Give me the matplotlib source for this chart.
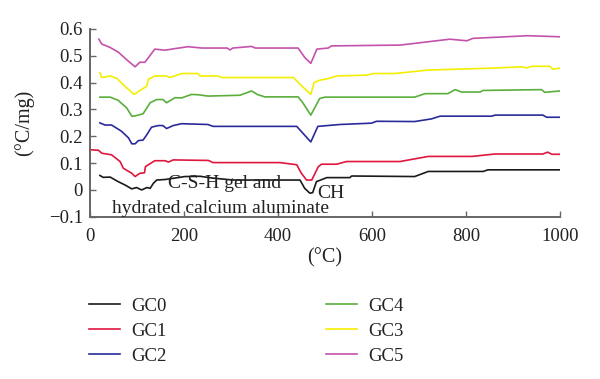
import matplotlib.pyplot as plt

# temperature (°C) / DTA signal (°C/mg)
gc0_t = [21, 28, 43, 60, 74, 89, 99, 110, 121, 128, 135, 142, 160, 202, 234, 262, 305, 447, 457, 468, 474, 482, 504, 553, 557, 691, 720, 837, 847, 1000]
gc0_v = [0.054, 0.047, 0.048, 0.031, 0.019, 0.004, 0.009, 0.000, 0.009, 0.006, 0.025, 0.037, 0.039, 0.050, 0.051, 0.044, 0.037, 0.037, 0.006, -0.012, -0.010, 0.031, 0.046, 0.046, 0.052, 0.050, 0.069, 0.069, 0.075, 0.075]

gc1_t = [0, 18, 25, 46, 64, 71, 89, 96, 106, 116, 118, 138, 160, 167, 177, 252, 262, 404, 440, 450, 461, 472, 486, 493, 525, 546, 660, 720, 813, 862, 964, 974, 983, 1000]
gc1_v = [0.150, 0.148, 0.137, 0.131, 0.106, 0.081, 0.062, 0.050, 0.062, 0.064, 0.087, 0.109, 0.109, 0.104, 0.112, 0.110, 0.102, 0.102, 0.094, 0.062, 0.037, 0.037, 0.087, 0.096, 0.096, 0.106, 0.106, 0.125, 0.125, 0.134, 0.134, 0.141, 0.133, 0.133]

gc2_t = [21, 32, 46, 67, 82, 89, 96, 103, 113, 121, 131, 145, 155, 163, 177, 195, 251, 262, 440, 470, 485, 532, 599, 610, 691, 727, 745, 855, 862, 964, 972, 1000]
gc2_v = [0.250, 0.242, 0.242, 0.219, 0.194, 0.172, 0.172, 0.184, 0.186, 0.206, 0.234, 0.240, 0.240, 0.229, 0.240, 0.247, 0.244, 0.237, 0.237, 0.179, 0.237, 0.244, 0.249, 0.256, 0.255, 0.265, 0.275, 0.275, 0.279, 0.279, 0.271, 0.271]

gc4_t = [21, 43, 60, 78, 89, 96, 113, 128, 142, 155, 163, 181, 195, 216, 230, 251, 319, 344, 356, 372, 443, 453, 470, 489, 500, 691, 713, 762, 777, 791, 830, 837, 961, 968, 1000]
gc4_v = [0.346, 0.346, 0.334, 0.306, 0.275, 0.276, 0.284, 0.325, 0.337, 0.337, 0.325, 0.344, 0.343, 0.356, 0.355, 0.350, 0.353, 0.369, 0.356, 0.347, 0.347, 0.325, 0.279, 0.341, 0.346, 0.346, 0.359, 0.359, 0.374, 0.365, 0.365, 0.371, 0.374, 0.364, 0.369]

gc3_t = [21, 25, 43, 57, 74, 94, 110, 121, 124, 138, 163, 170, 195, 230, 234, 272, 280, 433, 447, 470, 477, 489, 507, 525, 589, 603, 649, 720, 855, 919, 930, 940, 979, 985, 1000]
gc3_v = [0.437, 0.419, 0.425, 0.416, 0.387, 0.356, 0.375, 0.387, 0.412, 0.425, 0.425, 0.419, 0.434, 0.434, 0.425, 0.425, 0.419, 0.419, 0.394, 0.356, 0.400, 0.409, 0.415, 0.425, 0.428, 0.434, 0.434, 0.447, 0.454, 0.459, 0.455, 0.461, 0.461, 0.450, 0.454]

gc5_t = [19, 25, 43, 60, 81, 96, 106, 117, 138, 160, 181, 209, 238, 292, 298, 304, 344, 352, 443, 457, 470, 483, 507, 514, 660, 766, 802, 815, 932, 1000]
gc5_v = [0.562, 0.544, 0.531, 0.514, 0.481, 0.459, 0.476, 0.476, 0.525, 0.521, 0.527, 0.534, 0.529, 0.529, 0.522, 0.529, 0.535, 0.529, 0.529, 0.494, 0.472, 0.525, 0.529, 0.537, 0.540, 0.562, 0.556, 0.565, 0.575, 0.571]

plt.rcParams['font.family'] = ['Liberation Serif', 'DejaVu Serif']

fig = plt.figure(figsize=(6, 3.79), dpi=100)
ax = fig.add_axes([0.15, 0.428, 0.783, 0.4955])

lines = {}
lines['GC0'], = ax.plot(gc0_t, gc0_v, color='#1a1a1a', lw=1.2)
lines['GC1'], = ax.plot(gc1_t, gc1_v, color='#e0163f', lw=1.2)
lines['GC2'], = ax.plot(gc2_t, gc2_v, color='#2a2a9a', lw=1.2)
lines['GC4'], = ax.plot(gc4_t, gc4_v, color='#5aae3c', lw=1.2)
lines['GC3'], = ax.plot(gc3_t, gc3_v, color='#f4ee00', lw=1.2)
lines['GC5'], = ax.plot(gc5_t, gc5_v, color='#c452aa', lw=1.2)

ax.set_xlim(0, 1000)
ax.set_ylim(-0.1, 0.6)
ax.set_xticks([0, 200, 400, 600, 800, 1000])
ax.set_yticks([-0.1, 0, 0.1, 0.2, 0.3, 0.4, 0.5, 0.6])
ax.set_yticklabels(['\u22120.1', '0', '0.1', '0.2', '0.3', '0.4', '0.5', '0.6'])
for s in ['top', 'right']:
    ax.spines[s].set_visible(False)
for s in ['left', 'bottom']:
    ax.spines[s].set_color('#666666')
    ax.spines[s].set_linewidth(1.4)
ax.tick_params(direction='in', length=4, width=1, color='#666666', labelsize=13.5, labelcolor='#222222')
ax.tick_params(axis='y', pad=5)
ax.tick_params(axis='x', pad=8)

ax.set_xlabel('(°C)', fontsize=14.5, color='#222222', labelpad=2)
ax.set_ylabel('(°C/mg)', fontsize=14.5, color='#222222', labelpad=11)

ax.text(165, 0.025, 'C-S-H gel and', fontsize=14, color='#222222', va='center')
ax.text(47, -0.068, 'hydrated calcium aluminate', fontsize=14, color='#222222', va='center')
ax.text(483, -0.015, 'CH', fontsize=14, color='#222222', va='center')

left = ['GC0', 'GC1', 'GC2']
right = ['GC4', 'GC3', 'GC5']
kw = dict(frameon=False, fontsize=13.5, handlelength=1.65, handletextpad=0.6, labelspacing=0.42,
          loc='upper left', labelcolor='#222222', borderaxespad=0, borderpad=0)
leg1 = fig.legend([lines[k] for k in left], left, bbox_to_anchor=(0.148, 0.215), **kw)
leg2 = fig.legend([lines[k] for k in right], right, bbox_to_anchor=(0.543, 0.215), **kw)

fig.savefig('out.png', dpi=100)
